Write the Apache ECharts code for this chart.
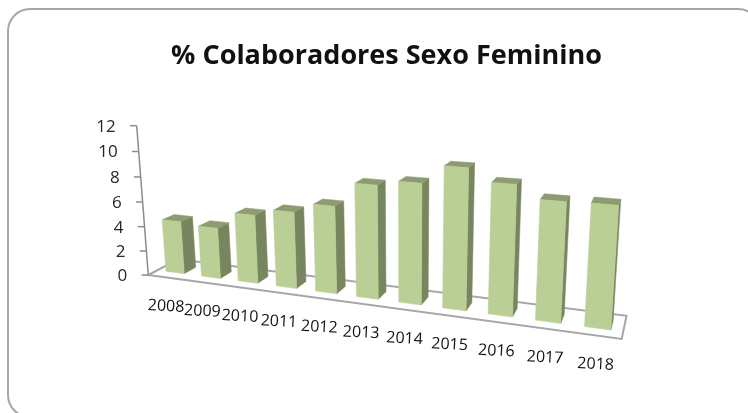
<!DOCTYPE html>
<html>
<head>
<meta charset="utf-8">
<title>% Colaboradores Sexo Feminino</title>
<script src="https://cdn.jsdelivr.net/npm/echarts@6/dist/echarts.min.js"></script>
<style>
	html, body { margin: 0; padding: 0; background: #fff; }
	#chart { width: 748px; height: 413px; }
</style>
</head>
<body>
<div id="chart"></div>
<script>
var categories = ['2008', '2009', '2010', '2011', '2012', '2013', '2014', '2015', '2016', '2017', '2018'];
var values = [4.3, 4.1, 5.45, 6.0, 6.75, 8.6, 9.0, 10.35, 9.45, 8.55, 8.6];
var yTicks = [0, 2, 4, 6, 8, 10, 12];

// floor corners on screen, top of the value axis, vanishing point of the verticals
var FL = [148.3, 275], FR = [621.7, 339], BR = [626.5, 315.8], BL = [178, 259.3];
var axisTop = [136.7, 125.7], vertVanish = [408, 3600];
var barWidth = 0.52, barZ0 = 0.3, barZ1 = 0.7;
var gridBox = { left: 148, top: 126, width: 474, height: 149 };

// the sheet's perspective: X along the categories, Y up, Z into the picture, all 0..1
var den = (FR[0] - BR[0]) * (BL[1] - BR[1]) - (BL[0] - BR[0]) * (FR[1] - BR[1]);
var sx = FL[0] - FR[0] + BR[0] - BL[0], sy = FL[1] - FR[1] + BR[1] - BL[1];
var gx = (sx * (BL[1] - BR[1]) - (BL[0] - BR[0]) * sy) / den;
var gz = ((FR[0] - BR[0]) * sy - sx * (FR[1] - BR[1])) / den;
var gy = (FL[1] - axisTop[1]) / (axisTop[1] - vertVanish[1]);

function project(X, Y, Z) {
	var w = 1 + gx * X + gy * Y + gz * Z;
	var px = FL[0]
		+ X * (FR[0] - FL[0] + gx * FR[0])
		+ Y * ((1 + gy) * axisTop[0] - FL[0])
		+ Z * (BL[0] - FL[0] + gz * BL[0]);
	var py = FL[1]
		+ X * (FR[1] - FL[1] + gx * FR[1])
		+ Y * ((1 + gy) * axisTop[1] - FL[1])
		+ Z * (BL[1] - FL[1] + gz * BL[1]);
	return [px / w, py / w];
}

// grid pixel -> X / Y of the sheet
function toX(params, px) {
	return (px - params.coordSys.x) / params.coordSys.width;
}
function toY(params, py) {
	return (params.coordSys.y + params.coordSys.height - py) / params.coordSys.height;
}

function poly(points, color) {
	return { type: 'polygon', shape: { points: points }, style: { fill: color, stroke: color, lineWidth: 0.5 } };
}

function renderFloor(params, api) {
	return {
		type: 'polygon',
		shape: { points: [project(0, 0, 0), project(1, 0, 0), project(1, 0, 1), project(0, 0, 1)] },
		style: { fill: '#fff', stroke: '#a6a6a6', lineWidth: 2 }
	};
}

function renderTick(params, api) {
	var pos = api.coord([0, api.value(1)]);
	var p = project(0, toY(params, pos[1]), 0);
	var children = [{
		type: 'line',
		shape: { x1: p[0] - 6.7, y1: p[1], x2: p[0], y2: p[1] },
		style: { stroke: '#8c8c8c', lineWidth: 1.5 }
	}, {
		type: 'text',
		x: p[0] - 21,
		y: p[1] + 1,
		style: {
			text: String(yTicks[params.dataIndex]),
			fill: '#262626',
			font: '17px "Open Sans"',
			textAlign: 'right',
			textVerticalAlign: 'middle'
		}
	}];
	if (params.dataIndex === yTicks.length - 1) {
		var b = project(0, 0, 0);
		children.push({
			type: 'line',
			shape: { x1: b[0], y1: b[1], x2: p[0], y2: p[1] },
			style: { stroke: '#8c8c8c', lineWidth: 1.5 }
		});
	}
	return { type: 'group', children: children };
}

function renderBar(params, api) {
	var top = api.coord([api.value(0), api.value(1)]);
	var cell = api.size([1, 0])[0];
	var X0 = toX(params, top[0] - cell * barWidth / 2);
	var X1 = toX(params, top[0] + cell * barWidth / 2);
	var Y = toY(params, top[1]);
	return {
		type: 'group',
		children: [
			poly([project(X1, 0, barZ0), project(X1, 0, barZ1), project(X1, Y, barZ1), project(X1, Y, barZ0)], '#78865f'),
			poly([project(X0, Y, barZ0), project(X1, Y, barZ0), project(X1, Y, barZ1), project(X0, Y, barZ1)], '#8c9c70'),
			poly([project(X0, 0, barZ0), project(X1, 0, barZ0), project(X1, Y, barZ0), project(X0, Y, barZ0)], '#b9cf96')
		]
	};
}

function renderCategory(params, api) {
	var pos = api.coord([api.value(0), 0]);
	var p = project(toX(params, pos[0]), 0, 0);
	return {
		type: 'text',
		x: p[0],
		y: p[1] + 29,
		rotation: -0.05,
		style: {
			text: categories[params.dataIndex],
			fill: '#111',
			font: '16px "Open Sans"',
			textAlign: 'center',
			textVerticalAlign: 'middle'
		}
	};
}

var chart = echarts.init(document.getElementById('chart'));

chart.setOption({
	animation: false,
	backgroundColor: '#fff',
	title: {
		text: '% Colaboradores Sexo Feminino',
		left: 381.5,
		top: 38,
		textAlign: 'center',
		textStyle: { fontFamily: 'Open Sans', fontWeight: 'bold', fontSize: 27, color: '#111' }
	},
	graphic: [{
		type: 'rect',
		shape: { x: 8, y: 9, width: 752, height: 408, r: 22 },
		style: { fill: 'none', stroke: '#a6a6a6', lineWidth: 2 }
	}],
	grid: gridBox,
	xAxis: { type: 'category', data: categories, show: false },
	yAxis: { type: 'value', min: 0, max: 12, interval: 2, show: false },
	series: [{
		type: 'custom',
		silent: true,
		clip: false,
		renderItem: renderFloor,
		data: [[0, 0]]
	}, {
		type: 'custom',
		silent: true,
		clip: false,
		renderItem: renderTick,
		data: yTicks.map(function(t) { return [0, t]; })
	}, {
		type: 'custom',
		silent: true,
		clip: false,
		renderItem: renderBar,
		data: values.map(function(v, i) { return [i, v]; })
	}, {
		type: 'custom',
		silent: true,
		clip: false,
		renderItem: renderCategory,
		data: categories.map(function(c, i) { return [i, 0]; })
	}]
});
</script>
</body>
</html>
